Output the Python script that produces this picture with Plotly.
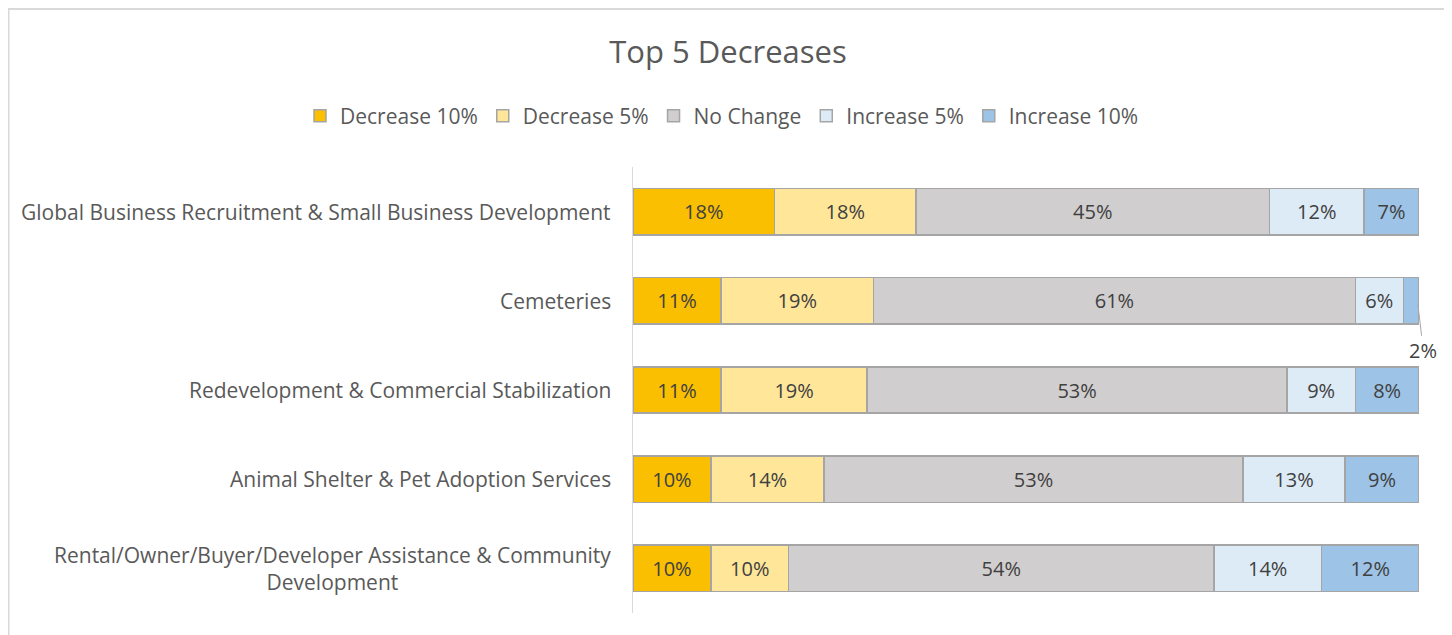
import plotly.graph_objects as go

categories = [
    "Global Business Recruitment & Small Business Development",
    "Cemeteries",
    "Redevelopment & Commercial Stabilization",
    "Animal Shelter & Pet Adoption Services",
    "Rental/Owner/Buyer/Developer Assistance & Community<br>Development",
]
series_names = ["Decrease 10%", "Decrease 5%", "No Change", "Increase 5%", "Increase 10%"]
decrease_10 = [18.0, 11.2, 11.2, 9.9, 9.9]
decrease_5 = [18.0, 19.4, 18.6, 14.4, 9.9]
no_change = [45.0, 61.3, 53.4, 53.3, 54.1]
increase_5 = [12.0, 6.1, 8.7, 13.0, 13.7]
increase_10 = [7.0, 2.0, 8.1, 9.4, 12.4]
colors = ["#F9BF00", "#FFE699", "#D0CECE", "#DDEBF7", "#9DC3E6"]

all_series = [decrease_10, decrease_5, no_change, increase_5, increase_10]
ycats = list(range(len(categories)))

FONT = "Open Sans"
fig = go.Figure()
for name, vals, col in zip(series_names, all_series, colors):
    texts = []
    for i, v in enumerate(vals):
        # the tiny 2% segment for Cemeteries is labelled outside with a leader line
        if name == "Increase 10%" and i == 1:
            texts.append("")
        else:
            texts.append(f"{v:.0f}%")
    fig.add_trace(go.Bar(
        name=name, y=ycats, x=vals, orientation="h",
        marker=dict(color=col, line=dict(color="#A5A5A5", width=1.5)),
        text=texts, textposition="inside", insidetextanchor="middle",
        textfont=dict(color="#404040", size=20, family=FONT),
        hoverinfo="skip",
    ))

# outside label for the small segment
cem_idx = 1
cem_x = sum(s[cem_idx] for s in all_series[:4]) + increase_10[cem_idx] / 2 + 0.8
fig.add_annotation(
    x=cem_x, y=cem_idx, xref="x", yref="y",
    text=f"{increase_10[cem_idx]:.0f}%", showarrow=True, arrowhead=0,
    arrowwidth=1, arrowcolor="#A6A6A6", ax=6, ay=50, standoff=4,
    font=dict(color="#404040", size=20, family=FONT),
)

# category labels (centered multi-line)
for i, c in enumerate(categories):
    fig.add_annotation(
        x=0, y=i, xref="paper", yref="y", xanchor="right", align="center",
        xshift=-20, text=c, showarrow=False,
        font=dict(color="#595959", size=21, family=FONT),
    )

# figure is drawn at an 8px offset in the page
W, H = 1444, 627
L, T = 625, 159
PW, PH = 786, 446

# chart border
fig.add_shape(type="rect", xref="paper", yref="paper",
              x0=(0.5 - L) / PW, x1=(1439 - L) / PW,
              y0=(T + PH - 660) / PH, y1=(T + PH - 1) / PH,
              line=dict(color="#D9D9D9", width=2), layer="below")

fig.update_layout(
    barmode="stack", bargap=0.48,
    width=W, height=H,
    margin=dict(l=L, r=W - L - PW, t=T, b=H - T - PH),
    paper_bgcolor="white", plot_bgcolor="white",
    title=dict(text="Top 5 Decreases", x=(728 - 8) / W, xref="container", xanchor="center",
               y=1 - (52 - 8) / H, yref="container", yanchor="middle",
               font=dict(size=31, color="#595959", family=FONT)),
    legend=dict(orientation="h", xref="paper", x=(300 - 8 - L) / PW, xanchor="left",
                yref="paper", y=(T + PH - (116 - 8)) / PH, yanchor="middle",
                font=dict(size=21, color="#595959", family=FONT),
                itemwidth=30, traceorder="normal"),
    xaxis=dict(range=[0, 100], visible=False, fixedrange=True),
    yaxis=dict(autorange="reversed", showticklabels=False, showgrid=False,
               zeroline=False, showline=True, linecolor="#D9D9D9", linewidth=1,
               ticks="", fixedrange=True),
    showlegend=True,
    uniformtext=dict(mode="show", minsize=10),
)

fig.write_html("out.html")
